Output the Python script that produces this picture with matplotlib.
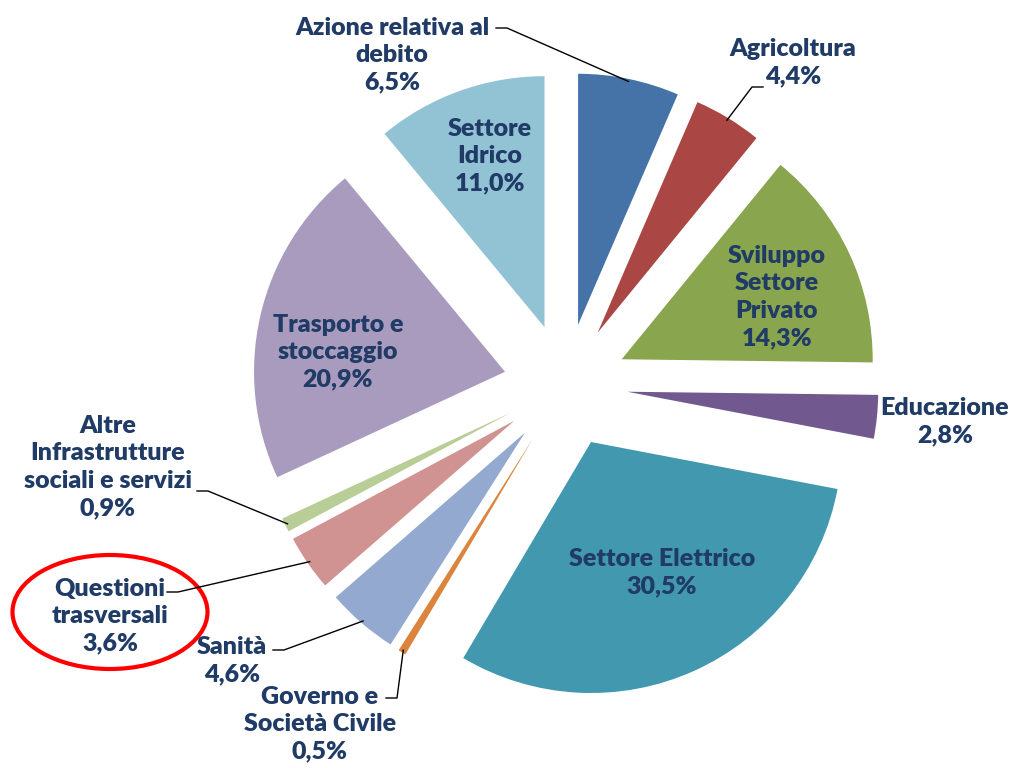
import matplotlib.pyplot as plt
from matplotlib.patches import Ellipse
import numpy as np

# data (clockwise from 12 o'clock)
names = ["Azione relativa al\ndebito", "Agricoltura", "Sviluppo\nSettore\nPrivato",
         "Educazione", "Settore Elettrico", "Governo e\nSocietà Civile", "Sanità",
         "Questioni\ntrasversali", "Altre\nInfrastrutture\nsociali e servizi",
         "Trasporto e\nstoccaggio", "Settore\nIdrico"]
values = [6.5, 4.4, 14.3, 2.8, 30.5, 0.5, 4.6, 3.6, 0.9, 20.9, 11.0]
colors = ["#4572A7", "#AA4643", "#89A54E", "#71588F", "#4198AF", "#DB843D",
          "#93A9CF", "#D19392", "#B9CD96", "#A99BBD", "#92C3D5"]

# label placement (image pixel coords, y from top)
label_pos = [(392, 55), (793, 63), (777, 297), (945, 422), (662, 573), (320, 724),
             (232, 661), (110, 616), (108, 467), (338, 352), (490, 156)]
# leader line start at text edge, and side of the elbow (+1 right, -1 left)
leaders = {0: ((496, 28), 1), 1: ((763, 87), -1), 8: ((197, 491), 1),
           7: ((167, 592), 1), 6: ((273, 650), 1), 5: ((386, 698), 1)}

H = 768
TXT = "#1F3B66"
plt.rcParams['font.family'] = ['Lato', 'DejaVu Sans']

fig = plt.figure(figsize=(10.2, 7.68), dpi=100)
ax = fig.add_axes([0, 0, 1, 1])
R = 251
wedges, _ = ax.pie(values, colors=colors, startangle=90, counterclock=False,
                   radius=R, center=(565.5, H - 385.5), explode=[62] * len(values),
                   wedgeprops=dict(linewidth=0))
ax.set_xlim(0, 1020)
ax.set_ylim(0, H)
ax.set_aspect('equal')
ax.axis('off')

for i, (name, v) in enumerate(zip(names, values)):
    txt = name + "\n" + f"{v:.1f}".replace('.', ',') + "%"
    x, y = label_pos[i]
    ax.text(x, H - y, txt, ha='center', va='center', fontsize=18, fontweight='heavy',
            color=TXT, linespacing=1.3)

for i, ((sx, sy), side) in leaders.items():
    w = wedges[i]
    tm = np.deg2rad((w.theta1 + w.theta2) / 2)
    px = w.center[0] + 0.99 * R * np.cos(tm)
    py = w.center[1] + 0.99 * R * np.sin(tm)
    ex = sx + side * 11
    ax.plot([sx, ex, px], [H - sy, H - sy, py], color='black', lw=1.0)

ax.add_patch(Ellipse((110, H - 612), 195, 114, fill=False, edgecolor='#FF0000', lw=3))

fig.savefig('out.png', dpi=100)
